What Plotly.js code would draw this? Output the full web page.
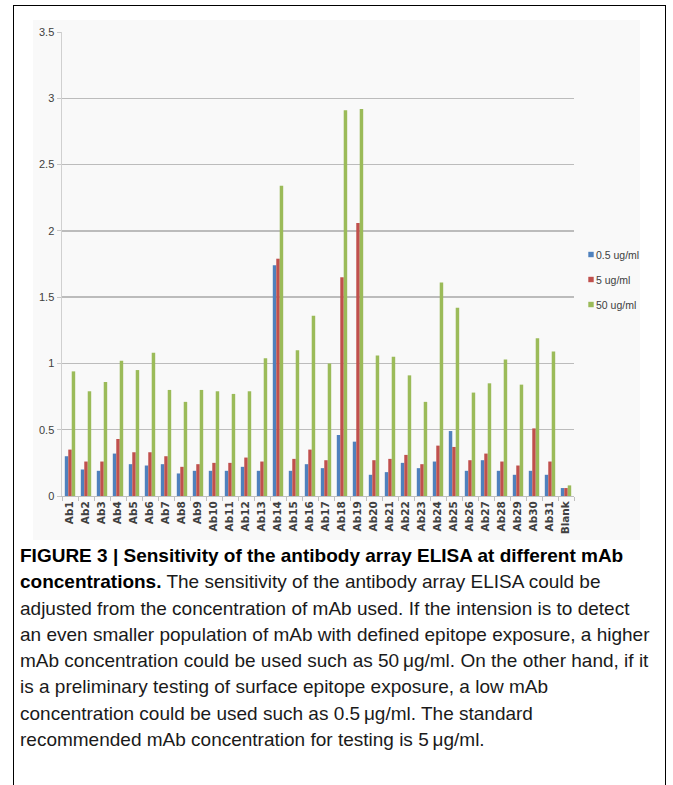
<!DOCTYPE html>
<html>
<head>
<meta charset="utf-8">
<script src="https://cdn.plot.ly/plotly-3.0.1.min.js"></script>
<style>
  html, body { margin: 0; padding: 0; background: #fff; }
  #wrap { position: relative; width: 673px; height: 785px; overflow: hidden; background: #fff; }
  #chart { position: absolute; left: 0; top: 0; width: 673px; height: 785px; }
  #frame { position: absolute; left: 13px; top: 5px; width: 653px; height: 820px; border: 1.5px solid #000; box-sizing: border-box; pointer-events: none; }
  #caption { position: absolute; left: 20px; top: 543px; font-family: "Liberation Sans", Arial, sans-serif; font-size: 19px; line-height: 26.3px; color: #1a1a1a; white-space: nowrap; }
  #caption b { font-weight: bold; color: #000; }
</style>
</head>
<body>
<div id="wrap">
  <div id="chart"></div>
  <div id="frame"></div>
  <div id="caption">
    <b>FIGURE 3 | Sensitivity of the antibody array ELISA at different mAb</b><br>
    <b>concentrations.</b> The sensitivity of the antibody array ELISA could be<br>
    adjusted from the concentration of mAb used. If the intension is to detect<br>
    an even smaller population of mAb with defined epitope exposure, a higher<br>
    mAb concentration could be used such as 50&#8201;μg/ml. On the other hand, if it<br>
    is a preliminary testing of surface epitope exposure, a low mAb<br>
    concentration could be used such as 0.5&#8201;μg/ml. The standard<br>
    recommended mAb concentration for testing is 5&#8201;μg/ml.
  </div>
</div>
<script>
// ---- data ----
const categories = ["Ab1","Ab2","Ab3","Ab4","Ab5","Ab6","Ab7","Ab8","Ab9","Ab10",
  "Ab11","Ab12","Ab13","Ab14","Ab15","Ab16","Ab17","Ab18","Ab19","Ab20",
  "Ab21","Ab22","Ab23","Ab24","Ab25","Ab26","Ab27","Ab28","Ab29","Ab30","Ab31","Blank"];

const seriesNames = ["0.5 ug/ml", "5 ug/ml", "50 ug/ml"];

const conc05 = [0.30,0.20,0.19,0.32,0.24,0.23,0.24,0.17,0.19,0.19,
  0.19,0.22,0.19,1.74,0.19,0.24,0.21,0.46,0.41,0.16,
  0.18,0.25,0.21,0.26,0.49,0.19,0.27,0.19,0.16,0.19,0.16,0.06];

const conc5 = [0.35,0.26,0.26,0.43,0.33,0.33,0.30,0.22,0.24,0.25,
  0.25,0.29,0.26,1.79,0.28,0.35,0.27,1.65,2.06,0.27,
  0.28,0.31,0.24,0.38,0.37,0.27,0.32,0.26,0.23,0.51,0.26,0.06];

const conc50 = [0.94,0.79,0.86,1.02,0.95,1.08,0.80,0.71,0.80,0.79,
  0.77,0.79,1.04,2.34,1.10,1.36,1.00,2.91,2.92,1.06,
  1.05,0.91,0.71,1.61,1.42,0.78,0.85,1.03,0.84,1.19,1.09,0.08];

const yTickVals = [0, 0.5, 1, 1.5, 2, 2.5, 3, 3.5];
const yTickText = ["0", "0.5", "1", "1.5", "2", "2.5", "3", "3.5"];

// ---- styles ----
const colors = ["#4F81BD", "#C0504D", "#9BBB59"];
const W = 673, H = 785;
const M = { l: 62, r: 99, t: 32, b: 289 };
const PW = W - M.l - M.r, PH = H - M.t - M.b;
const px2x = p => (p - M.l) / PW;
const py2y = p => (H - M.b - p) / PH;

const valueSets = [conc05, conc5, conc50];
const traces = valueSets.map((vals, i) => ({
  type: "bar",
  name: seriesNames[i],
  x: categories,
  y: vals,
  legendgroup: "g" + i,
  marker: { color: colors[i], line: { width: 0 } },
  hoverinfo: "x+y+name"
}));

const layout = {
  width: W, height: H,
  margin: { l: M.l, r: M.r, t: M.t, b: M.b, pad: 0 },
  paper_bgcolor: "rgba(0,0,0,0)",
  plot_bgcolor: "rgba(0,0,0,0)",
  barmode: "group",
  bargap: 0.35,
  bargroupgap: 0,
  showlegend: true,
  legend: {
    x: px2x(556), xanchor: "left",
    y: py2y(240), yanchor: "top",
    traceorder: "grouped",
    tracegroupgap: 6,
    font: { family: "Liberation Sans Narrow, Liberation Sans, Arial, sans-serif", size: 10.5, color: "#404040" },
    bgcolor: "rgba(0,0,0,0)"
  },
  xaxis: {
    type: "category",
    tickangle: -90,
    tickson: "boundaries",
    ticks: "outside",
    ticklen: 4,
    tickcolor: "#bfbfbf",
    showline: true,
    linecolor: "#bfbfbf",
    linewidth: 1,
    showgrid: false,
    zeroline: false,
    tickfont: { family: "DejaVu Sans, Verdana, sans-serif", size: 10.5, color: "#404040", weight: "bold" },
    fixedrange: true
  },
  yaxis: {
    range: [0, 3.5],
    tickvals: yTickVals,
    ticktext: yTickText,
    ticks: "outside",
    ticklen: 4,
    tickcolor: "#c8c8c8",
    showline: true,
    linecolor: "#d0d0d0",
    linewidth: 1.5,
    showgrid: true,
    gridcolor: "#bcbcbc",
    gridwidth: 1.3,
    zeroline: false,
    tickfont: { family: "Liberation Sans Narrow, Liberation Sans, Arial, sans-serif", size: 11, color: "#404040" },
    fixedrange: true
  },
  shapes: [
    {
      type: "rect", layer: "below",
      xref: "paper", yref: "paper",
      x0: px2x(33), x1: px2x(640), y0: py2y(540), y1: py2y(20),
      fillcolor: "#f9f9f9", line: { width: 0 }
    }
  ]
};

Plotly.newPlot("chart", traces, layout, { staticPlot: true, displayModeBar: false }).then(gd => {
  // shrink legend swatches to small squares like the original
  gd.querySelectorAll(".legend .legendpoints path").forEach(p => {
    const t = p.getAttribute("transform") || "";
    p.setAttribute("transform", t + " translate(15,0) scale(0.45)");
  });
});
</script>
</body>
</html>
